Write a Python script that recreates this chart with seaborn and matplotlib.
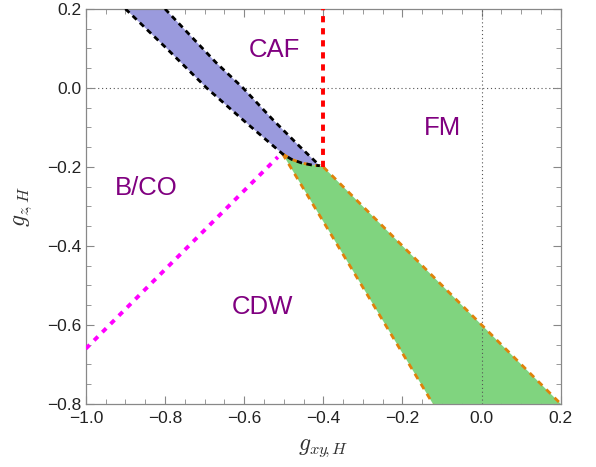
import numpy as np
import pandas as pd
import matplotlib
matplotlib.use("Agg")
import matplotlib.pyplot as plt
import seaborn as sns
from matplotlib.ticker import MultipleLocator

# boundary points
blue_upper_x = [-0.80, -0.67, -0.603, -0.527, -0.459, -0.409]
blue_upper_y = [0.20, 0.063, 0.0, -0.081, -0.149, -0.197]
blue_lower_x = [-0.90, -0.796, -0.695, -0.594, -0.503]
blue_lower_y = [0.20, 0.10, 0.0, -0.089, -0.167]

green_top_x = [-0.503, -0.48, -0.455, -0.43, -0.409]
green_top_y = [-0.167, -0.181, -0.190, -0.195, -0.197]
green_right_x = [-0.40, 0.20]
green_right_y = [-0.20, -0.80]
green_left_x = [-0.503, -0.123]
green_left_y = [-0.167, -0.80]

red_x = [-0.40, -0.40]
red_y = [-0.20, 0.20]
magenta_x = [-1.0, -0.515]
magenta_y = [-0.66, -0.175]

labels = ["CAF", "FM", "B/CO", "CDW"]
label_x = [-0.523, -0.100, -0.848, -0.553]
label_y = [0.096, -0.101, -0.253, -0.554]

sns.set_style("ticks")
plt.rcParams['font.family'] = ['Liberation Sans', 'DejaVu Sans']
plt.rcParams['mathtext.fontset'] = 'cm'

fig = plt.figure(figsize=(5.96, 4.67), dpi=100)
ax = fig.add_axes([0.144, 0.135, 0.797, 0.846])

# filled regions
blue_x = blue_upper_x + green_top_x[::-1] + blue_lower_x[::-1]
blue_y = blue_upper_y + green_top_y[::-1] + blue_lower_y[::-1]
ax.fill(blue_x, blue_y, color="#9a9add", lw=0, zorder=1)

green_x = green_top_x + green_right_x + green_left_x[::-1]
green_y = green_top_y + green_right_y + green_left_y[::-1]
ax.fill(green_x, green_y, color="#80d47f", lw=0, zorder=1)

# reference lines
ax.axhline(0, color="#555555", lw=0.8, ls=(0, (1, 2.5)), zorder=0.5)
ax.axvline(0, color="#555555", lw=0.8, ls=(0, (1, 2.5)), zorder=2)

orange = "#e0820a"
dash_o = (0, (2.2, 2.0))
for xs, ys in [(green_top_x, green_top_y), (green_right_x, green_right_y),
               (green_left_x, green_left_y)]:
    sns.lineplot(x=xs, y=ys, sort=False, estimator=None, ax=ax,
                 color=orange, lw=2.0, linestyle=dash_o, zorder=3)

dash_k = (0, (2.0, 1.6))
for xs, ys in [(blue_upper_x, blue_upper_y),
               (blue_lower_x + green_top_x[1:], blue_lower_y + green_top_y[1:])]:
    sns.lineplot(x=xs, y=ys, sort=False, estimator=None, ax=ax,
                 color="black", lw=2.0, linestyle=dash_k, zorder=4)

sns.lineplot(x=red_x, y=red_y, sort=False, estimator=None, ax=ax,
             color="#ff0000", lw=2.8, linestyle=(0, (1.6, 1.5)), zorder=4)
sns.lineplot(x=magenta_x, y=magenta_y, sort=False, estimator=None, ax=ax,
             color="#ff00ff", lw=2.8, linestyle=(0, (1.4, 1.6)), zorder=4)

for t, x, y in zip(labels, label_x, label_y):
    ax.text(x, y, t, color="#800080", fontsize=18.5, ha="center", va="center")

ax.set_xlim(-1.0, 0.2)
ax.set_ylim(-0.8, 0.2)
ax.xaxis.set_minor_locator(MultipleLocator(0.05))
ax.yaxis.set_minor_locator(MultipleLocator(0.05))
ax.set_xticks(np.arange(-1.0, 0.21, 0.2))
ax.set_xticklabels(["\u22121.0", "\u22120.8", "\u22120.6", "\u22120.4", "\u22120.2", "0.0", "0.2"])
ax.set_yticks(np.arange(-0.8, 0.21, 0.2))
ax.set_yticklabels(["\u22120.8", "\u22120.6", "\u22120.4", "\u22120.2", "0.0", "0.2"])

ax.tick_params(which="both", direction="in", top=True, right=True,
               color="#888888", labelsize=12.5, labelcolor="#222222")
ax.tick_params(axis="x", pad=5)
ax.tick_params(axis="y", pad=3)
ax.tick_params(which="major", length=6, width=0.8)
ax.tick_params(which="minor", length=3.5, width=0.6)
for s in ax.spines.values():
    s.set_color("#888888")
    s.set_linewidth(0.9)

ax.set_xlabel(r"$g_{xy\!,H}$", fontsize=17, color="#333333", labelpad=8)
ax.set_ylabel(r"$g_{z\!,H}$", fontsize=17, color="#333333", labelpad=10)

fig.savefig("out.png", dpi=100)
